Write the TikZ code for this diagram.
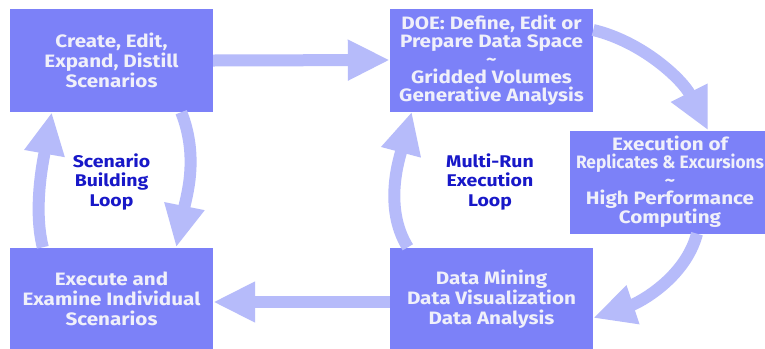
\documentclass[tikz,border=0pt]{standalone}
\usepackage{fontspec}
\setmainfont{Fira Sans}[FakeStretch=1.15]
\usetikzlibrary{arrows.meta}

\definecolor{boxblue}{RGB}{124,129,248}
\definecolor{flowblue}{RGB}{182,187,250}
\definecolor{boxtext}{RGB}{240,240,250}
\definecolor{looptext}{RGB}{24,24,200}

\begin{document}
\begin{tikzpicture}[x=1bp,y=-1bp,
    stage/.style={shape=rectangle,fill=boxblue,text=boxtext,align=center,inner sep=0pt,
        minimum width=203bp,minimum height=103bp,
        font=\bfseries\fontsize{18}{20}\selectfont},
    loop/.style={text=looptext,align=center,font=\bfseries\fontsize{17}{20}\selectfont},
    flow/.style={line width=12bp,draw=flowblue,-{Triangle[width=38bp,length=42bp]}}]
        \path[use as bounding box,fill=white] (0,0) rectangle (765,348);
        \node[stage](create) at (111.5,60.5) {Create, Edit,\\Expand, Distill\\Scenarios};
        \node[stage,font=\bfseries\fontsize{18}{18}\selectfont](doe) at (491.5,60) {DOE: Define, Edit or\\Prepare Data Space\\\textasciitilde\\Gridded Volumes\\Generative Analysis};
        \node[stage,minimum width=200bp,font=\bfseries\fontsize{18}{18}\selectfont](exec) at (670,182) {Execution of\\\scalebox{0.84}[1]{Replicates \& Excursions}\\\textasciitilde\\High Performance\\Computing};
        \node[stage](mining) at (491.5,299) {Data Mining\\Data Visualization\\Data Analysis};
        \node[stage](examine) at (111.5,299) {Execute and\\Examine Individual\\Scenarios};
        \node[loop](sbl) at (111.5,182) {Scenario\\Building\\Loop};
        \node[loop](mrl) at (490,182) {Multi-Run\\Execution\\Loop};
        % outer cycle
        \draw[flow] (create.east) -- (doe.west);
        \draw[flow] ([yshift=30bp]doe.east) .. controls +(50,12) and +(-25,-50) .. ([xshift=38bp]exec.north);
        \draw[flow] ([xshift=27bp]exec.south) .. controls +(-12,45) and +(45,-15) .. ([yshift=-19bp]mining.east);
        \draw[flow] ([yshift=-3bp]mining.west) -- ([yshift=-3bp]examine.east);
        % scenario building loop
        \draw[flow] ([xshift=-32bp]create.south east) .. controls +(18,45) and +(10,-50) .. ([xshift=-37bp]examine.north east);
        \draw[flow] ([xshift=33bp]examine.north west) .. controls +(-10,-40) and +(-8,45) .. ([xshift=42bp]create.south west);
        % multi-run loop
        \draw[flow] ([xshift=18bp]mining.north west) .. controls +(-25,-40) and +(-12,45) .. ([xshift=22bp]doe.south west);
    \end{tikzpicture}
\end{document}
